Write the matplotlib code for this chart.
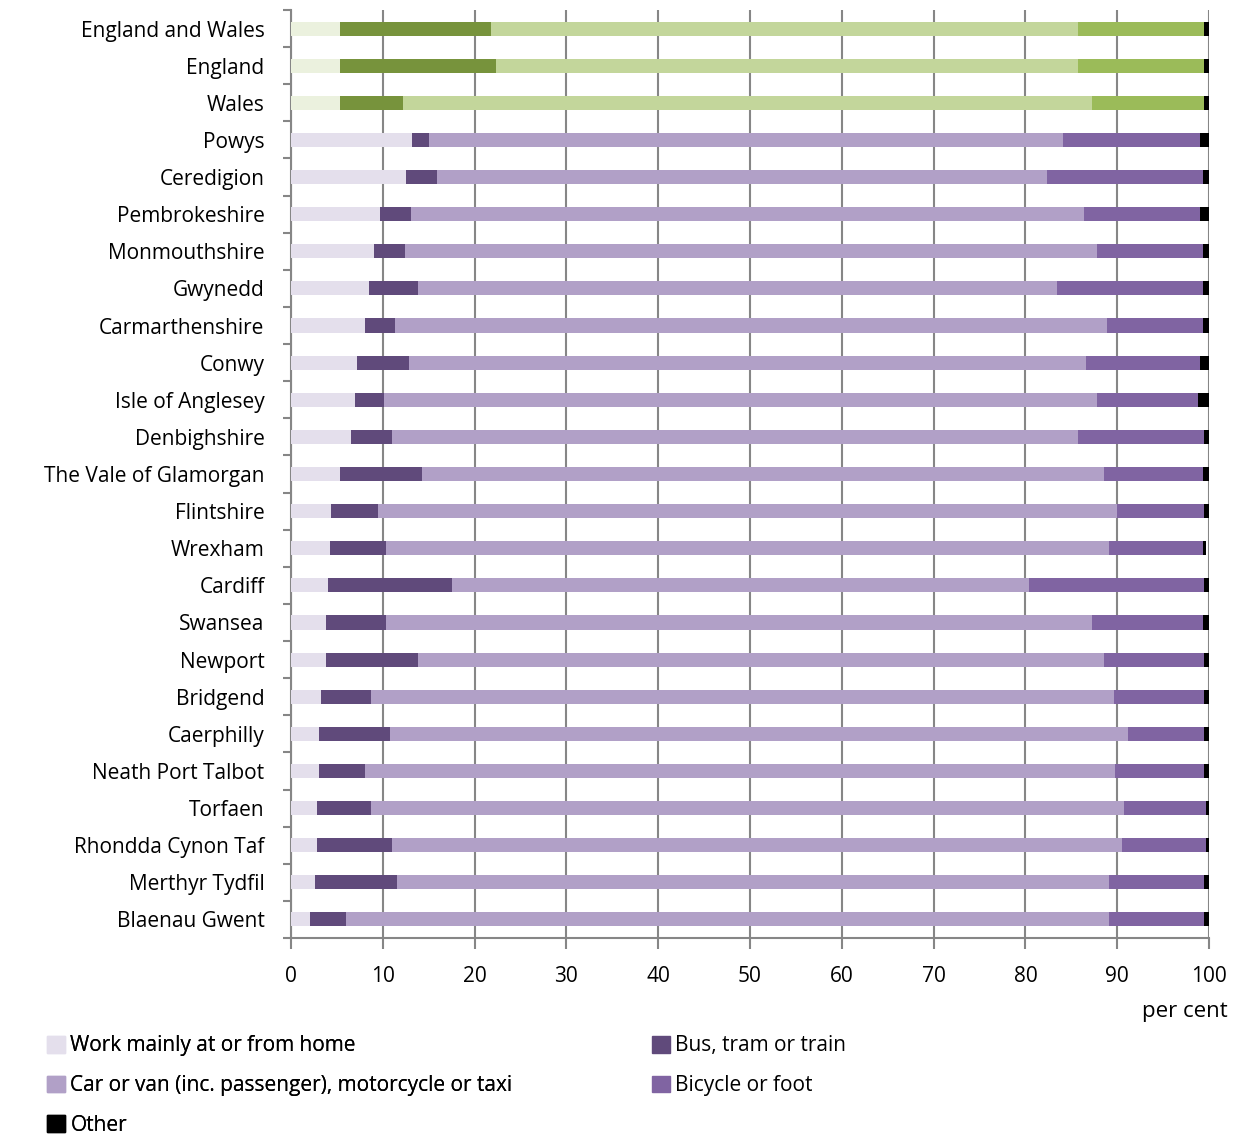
import numpy as np
import matplotlib.pyplot as plt
from matplotlib.patches import Patch

plt.rcParams['font.family'] = ['Open Sans', 'DejaVu Sans']

areas = ["England and Wales", "England", "Wales", "Powys", "Ceredigion",
         "Pembrokeshire", "Monmouthshire", "Gwynedd", "Carmarthenshire",
         "Conwy", "Isle of Anglesey", "Denbighshire", "The Vale of Glamorgan",
         "Flintshire", "Wrexham", "Cardiff", "Swansea", "Newport", "Bridgend",
         "Caerphilly", "Neath Port Talbot", "Torfaen", "Rhondda Cynon Taf",
         "Merthyr Tydfil", "Blaenau Gwent"]

home = [5.3, 5.3, 5.3, 13.2, 12.5, 9.7, 9.0, 8.5, 8.1, 7.2, 7.0, 6.5, 5.3,
        4.4, 4.2, 4.0, 3.8, 3.8, 3.3, 3.1, 3.1, 2.8, 2.8, 2.6, 2.1]
bus = [16.5, 17.0, 6.9, 1.8, 3.4, 3.4, 3.4, 5.3, 3.2, 5.7, 3.1, 4.5, 9.0,
       5.1, 6.2, 13.5, 6.6, 10.0, 5.4, 7.7, 5.0, 5.9, 8.25, 8.9, 3.9]
car = [63.9, 63.4, 75.1, 69.1, 66.4, 73.3, 75.4, 69.6, 77.6, 73.7, 77.7, 74.7, 74.3,
       80.5, 78.7, 62.9, 76.9, 74.8, 80.9, 80.4, 81.7, 82.0, 79.45, 77.6, 83.1]
bike = [13.8, 13.8, 12.2, 14.9, 17.0, 12.6, 11.5, 15.9, 10.4, 12.4, 11.0, 13.8, 10.7,
        9.5, 10.2, 19.1, 12.0, 10.9, 9.9, 8.3, 9.7, 9.0, 9.2, 10.4, 10.4]
other = [0.5, 0.5, 0.5, 1.0, 0.7, 1.0, 0.7, 0.7, 0.7, 1.0, 1.2, 0.5, 0.7,
         0.5, 0.4, 0.5, 0.7, 0.5, 0.5, 0.5, 0.5, 0.3, 0.3, 0.5, 0.5]

labels = ["Work mainly at or from home", "Bus, tram or train",
          "Car or van (inc. passenger), motorcycle or taxi", "Bicycle or foot", "Other"]

green = ["#EBF1DE", "#77933C", "#C3D69B", "#9BBB59", "#000000"]
purple = ["#E4DFEC", "#604A7B", "#B1A0C7", "#8064A2", "#000000"]

series = [home, bus, car, bike, other]
n = len(areas)
y = np.arange(n)
colours = [[green[k] if i < 3 else purple[k] for i in range(n)] for k in range(5)]

fig = plt.figure(figsize=(12.36, 11.37), dpi=100)
ax = fig.add_axes([291/1236, 1 - 938/1137, 918/1236, 928/1137])

left = np.zeros(n)
for k, vals in enumerate(series):
    vals = np.array(vals)
    ax.barh(y, vals, left=left, height=0.38, color=colours[k], linewidth=0, zorder=3)
    left += vals

ax.set_xlim(0, 100)
ax.set_ylim(n - 0.5, -0.5)
ax.set_xticks(np.arange(0, 101, 10))
ax.set_yticks(y)
ax.set_yticklabels(areas)
ax.set_yticks(np.arange(-0.5, n, 1), minor=True)
ax.tick_params(axis='y', which='major', length=0, pad=19, labelsize=15)
ax.tick_params(axis='y', which='minor', length=6, width=1.5, color='#868686')
ax.tick_params(axis='x', length=8, width=1.5, color='#868686', pad=12, labelsize=15)
ax.grid(axis='x', color='#868686', linewidth=1.5, zorder=0)
for s in ['top', 'right']:
    ax.spines[s].set_visible(False)
for s in ['left', 'bottom']:
    ax.spines[s].set_color('#868686')
    ax.spines[s].set_linewidth(1.5)

fig.text(1228/1236, 1 - 1011/1137, "per cent", ha='right', va='center', fontsize=16)

# legend as two columns placed separately
leg_kw = dict(loc='upper left', frameon=False, fontsize=15, handlelength=0.85,
              handleheight=0.85, handletextpad=0.25, labelspacing=0.9, borderpad=0)
left_leg = fig.legend([Patch(color=purple[0]), Patch(color=purple[2]), Patch(color='#000000')],
                      [labels[0], labels[2], labels[4]],
                      bbox_to_anchor=(37/1236, 1 - 1025/1137), **leg_kw)
fig.add_artist(left_leg)
fig.legend([Patch(color=purple[1]), Patch(color=purple[3])],
           [labels[1], labels[3]],
           bbox_to_anchor=(642/1236, 1 - 1025/1137), **leg_kw)

fig.savefig("out.png", dpi=100)
